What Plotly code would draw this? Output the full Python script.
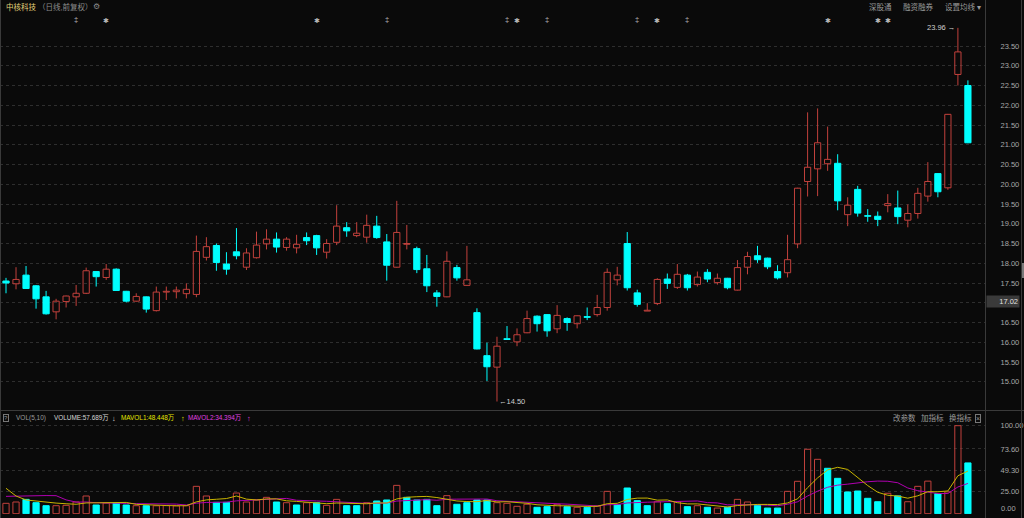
import plotly.graph_objects as go
import pandas as pd

# ---------------- data ----------------
opens = [17.55, 17.48, 17.70, 17.43, 17.15, 16.77, 17.03, 17.15, 17.24, 17.79,
         17.64, 17.85, 17.29, 17.04, 17.15, 16.80, 17.27, 17.28, 17.23, 17.21,
         18.15, 18.45, 17.98, 18.29, 17.90, 18.14, 18.49, 18.61, 18.40, 18.39,
         18.65, 18.70, 18.28, 18.53, 18.90, 18.70, 18.66, 18.94, 18.54, 17.90,
         18.48, 18.37, 17.86, 17.25, 17.15, 17.89, 17.44, 16.75, 15.66, 15.37,
         16.09, 16.01, 16.24, 16.66, 16.70, 16.34, 16.60, 16.47, 16.65, 16.70,
         16.88, 17.58, 18.50, 17.25, 16.79, 16.98, 17.60, 17.39, 17.70, 17.46,
         17.77, 17.51, 17.62, 17.32, 17.90, 18.19, 18.13, 17.79, 17.76, 18.49,
         20.07, 20.39, 20.52, 20.53, 19.23, 19.87, 19.20, 19.19, 19.46, 19.40,
         19.09, 19.26, 19.70, 20.27, 19.91, 22.78, 22.50]
highs = [17.63, 17.90, 17.93, 17.45, 17.30, 17.10, 17.18, 17.45, 17.89, 17.80,
         17.98, 17.87, 17.30, 17.24, 17.16, 17.41, 17.41, 17.41, 17.49, 18.70,
         18.66, 18.50, 18.28, 18.89, 18.38, 18.80, 18.86, 18.78, 18.66, 18.72,
         18.78, 18.72, 18.61, 19.47, 19.04, 19.04, 19.23, 19.20, 18.74, 19.58,
         18.97, 18.42, 18.21, 17.32, 18.30, 17.96, 18.44, 16.86, 15.99, 16.14,
         16.41, 16.35, 16.80, 16.68, 16.71, 16.94, 16.63, 16.68, 16.88, 17.20,
         17.87, 17.91, 18.79, 17.33, 16.99, 17.62, 17.74, 17.98, 17.73, 17.79,
         17.85, 17.74, 17.63, 18.08, 18.29, 18.44, 18.14, 17.95, 18.72, 19.91,
         21.82, 21.92, 21.46, 20.76, 19.67, 19.96, 19.37, 19.31, 19.75, 19.84,
         19.49, 19.91, 20.56, 20.28, 21.78, 23.96, 22.63]
lows = [17.24, 17.34, 17.35, 16.85, 16.70, 16.58, 16.88, 16.92, 17.22, 17.41,
        17.58, 17.30, 17.01, 17.03, 16.75, 16.78, 17.07, 17.11, 17.11, 17.14,
        18.07, 17.81, 17.71, 18.10, 17.83, 18.12, 18.35, 18.27, 18.32, 18.25,
        18.46, 18.21, 18.12, 18.46, 18.67, 18.66, 18.52, 18.62, 17.56, 17.89,
        18.35, 17.75, 17.27, 16.90, 17.14, 17.56, 17.43, 15.82, 15.02, 14.50,
        16.06, 15.90, 16.23, 16.27, 16.14, 16.23, 16.29, 16.35, 16.56, 16.65,
        16.80, 17.44, 17.31, 16.90, 16.79, 16.94, 17.35, 17.35, 17.31, 17.41,
        17.52, 17.46, 17.34, 17.31, 17.72, 18.01, 17.85, 17.59, 17.64, 18.38,
        19.69, 19.70, 20.34, 19.34, 18.94, 19.18, 19.05, 18.94, 19.29, 18.99,
        18.91, 19.13, 19.56, 19.67, 19.86, 22.50, 21.04]
closes = [17.50, 17.59, 17.36, 17.10, 16.72, 17.04, 17.17, 17.24, 17.81, 17.66,
          17.85, 17.31, 17.04, 17.16, 16.84, 17.27, 17.29, 17.32, 17.34, 18.30,
          18.42, 18.02, 17.85, 18.19, 18.26, 18.46, 18.61, 18.41, 18.61, 18.48,
          18.57, 18.39, 18.50, 18.94, 18.82, 18.76, 18.96, 18.65, 17.95, 18.78,
          18.50, 17.84, 17.43, 17.16, 18.05, 17.63, 17.58, 15.83, 15.38, 15.90,
          16.07, 16.19, 16.60, 16.47, 16.29, 16.68, 16.50, 16.67, 16.63, 16.88,
          17.77, 17.70, 17.38, 16.96, 16.81, 17.59, 17.49, 17.72, 17.38, 17.65,
          17.60, 17.62, 17.38, 17.89, 18.17, 18.09, 17.91, 17.63, 18.09, 19.90,
          20.43, 21.05, 20.63, 19.58, 19.47, 19.27, 19.19, 19.11, 19.51, 19.18,
          19.26, 19.77, 20.07, 19.81, 21.77, 23.35, 21.05]
# volume in 万
volumes = [11.8, 13.3, 16.3, 12.5, 9.1, 9.1, 9.5, 13.3, 20.1, 9.9,
           12.1, 12.1, 9.9, 9.1, 9.1, 9.0, 9.2, 8.9, 9.1, 31.1,
           20.1, 12.9, 12.9, 23.5, 13.3, 15.6, 18.6, 13.3, 12.5, 9.9,
           12.5, 12.5, 9.5, 16.3, 9.1, 9.1, 12.5, 14.4, 15.6, 32.2,
           18.6, 15.6, 16.3, 9.1, 20.5, 10.7, 12.5, 15.6, 15.6, 12.5,
           11.8, 8.4, 10.7, 7.3, 8.0, 10.7, 8.0, 7.3, 7.3, 8.7,
           25.4, 10.3, 29.2, 14.8, 9.1, 13.6, 11.4, 13.6, 8.0, 9.1,
           7.3, 6.4, 7.3, 16.3, 13.3, 9.5, 6.4, 6.4, 25.4, 36.8,
           73.2, 61.8, 51.6, 40.2, 24.7, 25.8, 17.5, 13.6, 23.2, 20.2,
           13.6, 31.1, 37.0, 22.8, 24.75, 100.0, 57.689]
# volumes of the days just before the visible window (only feed the moving averages)
vol_before = [10.5, 10.5, 10.5, 10.5, 10.5, 57.3, 38.8, 18.5, 18.1]

price_tickvals = [15.0, 15.5, 16.0, 16.5, 17.0, 17.5, 18.0, 18.5, 19.0,
                  19.5, 20.0, 20.5, 21.0, 21.5, 22.0, 22.5, 23.0, 23.5]
price_ticktext = ["15.00", "15.50", "16.00", "16.50", "17.00", "17.50", "18.00", "18.50", "19.00",
                  "19.50", "20.00", "20.50", "21.00", "21.50", "22.00", "22.50", "23.00", "23.50"]
vol_tickvals = [25.0, 49.3, 73.6, 100.0]
vol_ticktext = ["25.00", "49.30", "73.60", "100.00"]

event_idx = [7, 10, 31, 38, 50, 51, 54, 63, 65, 68, 82, 87, 88]
event_sym = ["‡", "*", "*", "‡", "‡", "*", "‡", "‡", "*", "‡", "*", "*", "*"]

cursor_price = 17.02

# ---------------- style / geometry ----------------
W, H = 1024, 518
BG = "#0a0a0a"
RED = "#c2413c"
CYAN = "#00ffff"
GRID = "#2e2e2e"
LINE = "#3a3a3a"
TXT = "#a8a8a8"
FONT = "Liberation Sans, Noto Sans CJK SC, sans-serif"

PLOT_R = 985          # right edge of plot area (px)
X0, STEP = 6, 10.02   # pixel of first candle, spacing
xr0 = -X0 / STEP
xr1 = xr0 + PLOT_R / STEP

# price panel: y_px = 46 + (23.5 - p) * 39.5
P_TOP, P_BOT = 14, 410
ytop = 23.5 + (46 - P_TOP) / 39.5
ybot = 23.5 - (P_BOT - 46) / 39.5
# volume panel: v_px = 513.7 - 0.88 v
V_TOP, V_BOT = 420, 514
vtop = (513.7 - V_TOP) / 0.88
vbot = (513.7 - V_BOT) / 0.88


def px(x):
    return x / W


def py(y):
    return 1 - y / H


n = len(closes)
idx = list(range(n))
up = [i for i in idx if closes[i] > opens[i]]
dn = [i for i in idx if closes[i] <= opens[i]]

fig = go.Figure()


def body_trace(ids, color, fill):
    return go.Bar(
        x=ids,
        base=[min(opens[i], closes[i]) for i in ids],
        y=[max(abs(closes[i] - opens[i]), 0.015) for i in ids],
        width=0.62,
        marker=dict(color=fill, line=dict(color=color, width=1)),
        xaxis="x", yaxis="y", hoverinfo="skip",
    )


def wick_trace(ids, color):
    xs, ys = [], []
    for i in ids:
        lo_b = min(opens[i], closes[i])
        hi_b = max(opens[i], closes[i])
        if lows[i] < lo_b:
            xs += [i, i, None]
            ys += [lows[i], lo_b, None]
        if highs[i] > hi_b:
            xs += [i, i, None]
            ys += [hi_b, highs[i], None]
    return go.Scatter(x=xs, y=ys, mode="lines", line=dict(color=color, width=1),
                      connectgaps=False, xaxis="x", yaxis="y", hoverinfo="skip")


fig.add_trace(wick_trace(up, RED))
fig.add_trace(wick_trace(dn, CYAN))
fig.add_trace(body_trace(up, RED, "rgba(0,0,0,0)"))
fig.add_trace(body_trace(dn, CYAN, CYAN))

# volume
vol_up = [True] + [closes[i] >= closes[i - 1] for i in range(1, n)]
vu = [i for i in idx if vol_up[i]]
vd = [i for i in idx if not vol_up[i]]
fig.add_trace(go.Bar(x=vu, y=[volumes[i] for i in vu], width=0.62,
                     marker=dict(color="rgba(0,0,0,0)", line=dict(color=RED, width=1)),
                     xaxis="x2", yaxis="y2", hoverinfo="skip"))
fig.add_trace(go.Bar(x=vd, y=[volumes[i] for i in vd], width=0.62,
                     marker=dict(color=CYAN, line=dict(color=CYAN, width=1)),
                     xaxis="x2", yaxis="y2", hoverinfo="skip"))

allv = pd.Series(vol_before + volumes)
ma5 = allv.rolling(5).mean().iloc[len(vol_before):].tolist()
ma10 = allv.rolling(10).mean().iloc[len(vol_before):].tolist()
fig.add_trace(go.Scatter(x=idx, y=ma10, mode="lines", line=dict(color="#b000b0", width=1),
                         xaxis="x2", yaxis="y2", hoverinfo="skip"))
fig.add_trace(go.Scatter(x=idx, y=ma5, mode="lines", line=dict(color="#c8b400", width=1),
                         xaxis="x2", yaxis="y2", hoverinfo="skip"))

ann = []


def txt(x, y, s, color=TXT, size=7.5, xanchor="left", **kw):
    ann.append(dict(x=x, y=y, xref=kw.pop("xref", "paper"), yref=kw.pop("yref", "paper"),
                    text=s, showarrow=False, xanchor=xanchor, yanchor=kw.pop("yanchor", "middle"),
                    font=dict(family=FONT, size=size, color=color), **kw))


# header
txt(px(4), py(7), "中核科技", color="#e3d47a", size=7.5)
txt(px(36), py(7), "（日线,前复权）", color="#8c8c8c", size=7.5)
txt(px(91), py(7), "⚙", color="#8c8c8c", size=8)
txt(px(867), py(7), "深股通", color="#9a9a9a", size=7.5)
txt(px(901), py(7), "融资融券", color="#9a9a9a", size=7.5)
txt(px(943), py(7), "设置均线 ▾", color="#9a9a9a", size=7.5)

# event markers
for i, s in zip(event_idx, event_sym):
    if s == "*":
        txt(i, py(20), "✱", color="#b8b8b8", size=6.5, xanchor="center", xref="x")
    else:
        txt(i, py(19), "‡", color="#b8b8b8", size=7.5, xanchor="center", xref="x")

# high / low labels
hi_i = max(idx, key=lambda i: highs[i])
lo_i = min(idx, key=lambda i: lows[i])
txt(hi_i, highs[hi_i], "%.2f →" % highs[hi_i], color="#cfcfcf", size=7.5,
    xanchor="right", xref="x", yref="y", xshift=-1)
txt(lo_i, lows[lo_i], "←%.2f" % lows[lo_i], color="#cfcfcf", size=7.5,
    xanchor="left", xref="x", yref="y", xshift=0)

# cursor price box on axis
ann.append(dict(x=px(PLOT_R + 1), y=cursor_price, xref="paper", yref="y",
                text="%.2f" % cursor_price, showarrow=False, xanchor="left", yanchor="middle",
                bgcolor="#3a3a3a", borderpad=1, width=30, align="right",
                font=dict(family=FONT, size=7.5, color="#e0e0e0")))

# volume header
ann.append(dict(x=px(3), y=py(418), xref="paper", yref="paper", text="?", showarrow=False,
                xanchor="left", yanchor="middle", bordercolor="#777", borderwidth=1, borderpad=0,
                font=dict(family=FONT, size=6, color="#999")))
txt(px(14), py(418), "VOL(5,10)", color="#9a9a9a", size=6.5)
txt(px(52), py(418), "VOLUME:%.3f万" % volumes[-1], color="#d8d8d8", size=6.4)
txt(px(110), py(418), "↓", color="#d8d8d8", size=7.5)
txt(px(119), py(418), "MAVOL1:%.3f万" % ma5[-1], color="#e6e600", size=6.4)
txt(px(179), py(418), "↑", color="#e6e600", size=7.5)
txt(px(186), py(418), "MAVOL2:%.3f万" % ma10[-1], color="#e040e0", size=6.4)
txt(px(245), py(418), "↑", color="#e040e0", size=7.5)
txt(px(891), py(418), "改参数", color="#9a9a9a", size=7.5)
txt(px(919), py(418), "加指标", color="#9a9a9a", size=7.5)
txt(px(947), py(418), "换指标", color="#9a9a9a", size=7.5)
ann.append(dict(x=px(975), y=py(418), xref="paper", yref="paper", text="×", showarrow=False,
                xanchor="left", yanchor="middle", bordercolor="#777", borderwidth=1, borderpad=0,
                font=dict(family=FONT, size=7, color="#999")))
txt(px(PLOT_R + 14), 5.7, "0.00", color=TXT, size=7.5, yref="y2")

shapes = [
    dict(type="line", xref="paper", yref="paper", x0=px(PLOT_R + 0.5), x1=px(PLOT_R + 0.5), y0=0, y1=1,
         line=dict(color=LINE, width=1)),
    dict(type="line", xref="paper", yref="paper", x0=px(1021.5), x1=px(1021.5), y0=0, y1=1,
         line=dict(color=LINE, width=1)),
    dict(type="line", xref="paper", yref="paper", x0=px(0.5), x1=px(0.5), y0=0, y1=1,
         line=dict(color=LINE, width=1)),
    dict(type="line", xref="paper", yref="paper", x0=0, x1=1, y0=py(410.5), y1=py(410.5),
         line=dict(color=LINE, width=1)),
    dict(type="rect", xref="paper", yref="paper", x0=px(1022), x1=px(1024), y0=py(278), y1=py(263),
         line=dict(width=0), fillcolor="#7a7a7a"),
]

axis_common = dict(showline=False, zeroline=False, fixedrange=True)
fig.update_layout(
    width=W, height=H, margin=dict(l=0, r=0, t=0, b=0),
    paper_bgcolor=BG, plot_bgcolor=BG, showlegend=False, barmode="overlay",
    font=dict(family=FONT, color=TXT),
    xaxis=dict(domain=[0, px(PLOT_R)], range=[xr0, xr1], visible=False, anchor="y", **axis_common),
    xaxis2=dict(domain=[0, px(PLOT_R)], range=[xr0, xr1], visible=False, anchor="y2",
                matches="x", **axis_common),
    yaxis=dict(domain=[py(P_BOT), py(P_TOP)], range=[ybot, ytop], side="right", anchor="x",
               tickvals=price_tickvals, ticktext=price_ticktext,
               ticks="outside", ticklen=13, tickcolor="rgba(0,0,0,0)",
               tickfont=dict(family=FONT, size=7.5, color=TXT),
               showgrid=True, gridcolor=GRID, griddash="dot", gridwidth=1, **axis_common),
    yaxis2=dict(domain=[py(V_BOT), py(V_TOP)], range=[vbot, vtop], side="right", anchor="x2",
                tickvals=vol_tickvals, ticktext=vol_ticktext,
                ticks="outside", ticklen=13, tickcolor="rgba(0,0,0,0)",
                tickfont=dict(family=FONT, size=7.5, color=TXT),
                showgrid=True, gridcolor=GRID, griddash="dot", gridwidth=1, **axis_common),
    annotations=ann, shapes=shapes,
)

fig.write_html(
    "out.html",
    config={"displayModeBar": False, "staticPlot": True},
    post_script="document.body.style.margin='0';document.body.style.padding='0';"
                "document.body.style.background='#0a0a0a';document.body.style.overflow='hidden';",
)
